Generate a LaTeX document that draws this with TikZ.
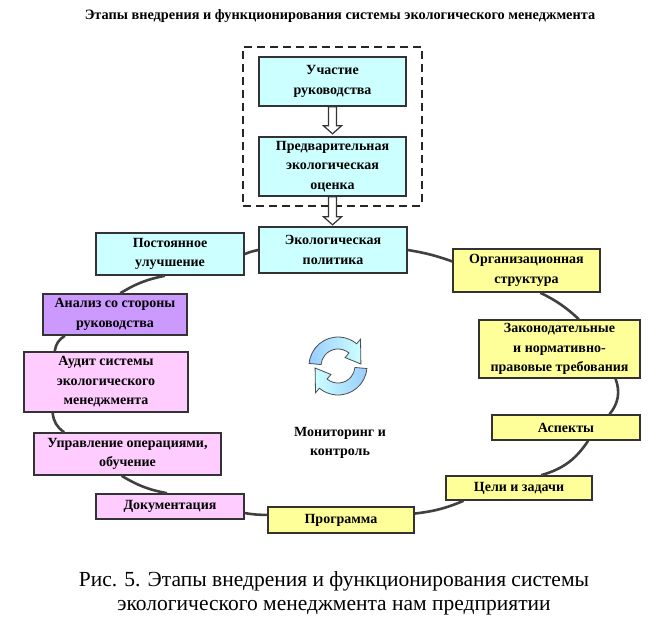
\documentclass[tikz,border=0pt]{standalone}
\usepackage{fontspec}
\setmainfont{Liberation Serif}
\usetikzlibrary{fit}

\definecolor{boxcyan}{HTML}{CCFFFF}
\definecolor{boxyellow}{HTML}{FFFF99}
\definecolor{boxviolet}{HTML}{CC99FF}
\definecolor{boxpink}{HTML}{FFCCFF}
\definecolor{arrowblue}{HTML}{99CCFF}

\tikzset{
  stage/.style={draw=black!80, line width=1.6pt, align=center, inner sep=1pt,
    font=\bfseries\fontsize{14}{19.5}\selectfont},
  ring/.style={draw=black!75, line width=2.6pt, bend left=15},
  hollow/.style={draw=black!80, line width=1.2pt, fill=white},
  dashbox/.style={draw=black!85, line width=2.5pt, dash pattern=on 8pt off 5pt},
  cyclearrow/.style={draw=black!70, line width=0.8pt},
}

\begin{document}
\begin{tikzpicture}[x=1pt,y=-1pt]
\useasboundingbox (0,0) rectangle (663,627);

\node[font=\bfseries\fontsize{14.3}{16}\selectfont] (title) at (340,16)
  {Этапы внедрения и функционирования системы экологического менеджмента};

% top stages
\node[stage, fill=boxcyan, minimum width=147pt, minimum height=49pt] (uch) at (332.5,81.5) {Участие\\руководства};
\node[stage, fill=boxcyan, minimum width=147pt, minimum height=59pt] (pred) at (332.5,166.5) {Предварительная\\экологическая\\оценка};
\node[dashbox, fit=(uch)(pred), inner xsep=15pt, inner ysep=9pt] (start) {};
\node[stage, fill=boxcyan, minimum width=148pt, minimum height=46pt] (pol) at (333,250) {Экологическая\\политика};

% ring
\node[stage, fill=boxyellow, minimum width=147pt, minimum height=43pt] (org) at (526.5,270.5) {Организационная\\структура};
\node[stage, fill=boxyellow, minimum width=161pt, minimum height=58pt] (zak) at (559.5,349) {Законодательные\\и нормативно-\\правовые требования};
\node[stage, fill=boxyellow, minimum width=148pt, minimum height=25pt] (asp) at (566,427.5) {Аспекты};
\node[stage, fill=boxyellow, minimum width=146pt, minimum height=24pt] (celi) at (519,488) {Цели и задачи};
\node[stage, fill=boxyellow, minimum width=146pt, minimum height=26pt] (prog) at (341,520) {Программа};
\node[stage, fill=boxpink, minimum width=148pt, minimum height=25pt] (doc) at (170,506.5) {Документация};
\node[stage, fill=boxpink, minimum width=187pt, minimum height=42pt] (upr) at (127.5,454) {Управление операциями,\\обучение};
\node[stage, fill=boxpink, minimum width=164pt, minimum height=60pt] (aud) at (106,382) {Аудит системы\\экологического\\менеджмента};
\node[stage, fill=boxviolet, minimum width=144pt, minimum height=41pt] (anal) at (115,314.5) {Анализ со стороны\\руководства};
\node[stage, fill=boxcyan, minimum width=148pt, minimum height=42pt] (post) at (170,254) {Постоянное\\улучшение};

\node[font=\bfseries\fontsize{14}{19}\selectfont, align=center] (mon) at (340,443) {Мониторинг и\\контроль};

% hollow arrows
\draw[hollow] (uch.south) ++(-4,0) -- ++(0,19) -- ++(-5,0) -- ++(9,8) -- ++(9,-8) -- ++(-5,0) -- ++(0,-19) -- cycle;
\draw[hollow] (pred.south) ++(-4,0) -- ++(0,20) -- ++(-5,0) -- ++(9,8) -- ++(9,-8) -- ++(-5,0) -- ++(0,-20) -- cycle;

% connectors of the ring
\draw[ring, bend left=5] (post.east) to (pol.west);
\draw[ring, bend left=5] (pol.east) to (org.173);
\draw[ring, bend left=8] (org.-58) to (zak.57);
\draw[ring, bend left=30] (zak.-28) to (asp.17);
\draw[ring, bend left=20] (asp.-31) to (celi.30);
\draw[ring, bend left=8] (celi.-167) to (prog.5);
\draw[ring, bend left=5] (prog.176) to (doc.-5);
\draw[ring, bend left=10] (doc.103) to (upr.-105);
\draw[ring, bend left=25] (upr.161) to (aud.-150);
\draw[ring, bend left=25] (aud.149) to (anal.-157);
\draw[ring, bend left=10] (anal.76) to (post.-103);

% cycle icon
\begin{scope}[shift={(338,366)}, yscale=-1]
\draw[cyclearrow, left color=arrowblue, right color=boxcyan]
  (175:29) arc[start angle=175, end angle=50, radius=29] -- (50:35) -- (5:23) -- (50:11) -- (50:17) arc[start angle=50, end angle=175, radius=17] -- cycle;
\draw[cyclearrow, right color=arrowblue, left color=boxcyan]
  (-5:29) arc[start angle=-5, end angle=-130, radius=29] -- (230:35) -- (185:23) -- (230:11) -- (230:17) arc[start angle=-130, end angle=-5, radius=17] -- cycle;
\end{scope}

\node[font=\fontsize{21.5}{24}\selectfont, align=center] (caption) at (334,593)
  {Рис. 5. Этапы внедрения и функционирования системы\\экологического менеджмента нам предприятии};
\end{tikzpicture}
\end{document}
